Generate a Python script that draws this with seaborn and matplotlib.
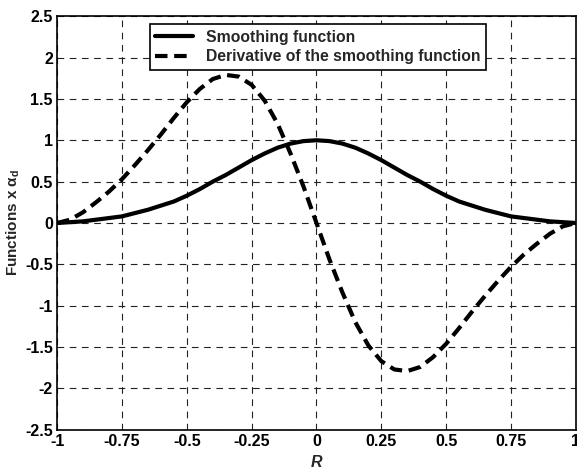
import numpy as np
import pandas as pd
import matplotlib
matplotlib.use("Agg")
import matplotlib.pyplot as plt
import seaborn as sns

# values
r_values = [-1.00, -0.95, -0.90, -0.85, -0.80, -0.75, -0.70, -0.65, -0.60, -0.55,
            -0.50, -0.45, -0.40, -0.35, -0.30, -0.25, -0.20, -0.15, -0.10, -0.05,
            0.00, 0.05, 0.10, 0.15, 0.20, 0.25, 0.30, 0.35, 0.40, 0.45,
            0.50, 0.55, 0.60, 0.65, 0.70, 0.75, 0.80, 0.85, 0.90, 0.95, 1.00]

smoothing = [0.00, 0.01, 0.02, 0.04, 0.06, 0.08, 0.12, 0.16, 0.21, 0.26,
             0.33, 0.41, 0.50, 0.58, 0.67, 0.76, 0.84, 0.91, 0.96, 0.99,
             1.00, 0.99, 0.96, 0.91, 0.84, 0.76, 0.67, 0.58, 0.50, 0.41,
             0.33, 0.26, 0.21, 0.16, 0.12, 0.08, 0.06, 0.04, 0.02, 0.01, 0.00]

derivative = [0.00, 0.04, 0.13, 0.25, 0.38, 0.53, 0.70, 0.88, 1.07, 1.27,
              1.46, 1.62, 1.74, 1.79, 1.77, 1.67, 1.48, 1.20, 0.84, 0.44,
              0.00, -0.44, -0.84, -1.20, -1.48, -1.67, -1.77, -1.79, -1.74, -1.62,
              -1.46, -1.27, -1.07, -0.88, -0.70, -0.53, -0.38, -0.25, -0.13, -0.04, 0.00]

x_ticks = [-1, -0.75, -0.5, -0.25, 0, 0.25, 0.5, 0.75, 1]
x_labels = ["-1", "-0.75", "-0.5", "-0.25", "0", "0.25", "0.5", "0.75", "1"]
y_ticks = [-2.5, -2, -1.5, -1, -0.5, 0, 0.5, 1, 1.5, 2, 2.5]
y_labels = ["-2.5", "-2", "-1.5", "-1", "-0.5", "0", "0.5", "1", "1.5", "2", "2.5"]

df = pd.DataFrame({"R": r_values, "smooth": smoothing, "deriv": derivative})

sns.set_style("white")
plt.rcParams["font.family"] = ["Liberation Sans", "DejaVu Sans"]
plt.rcParams["font.weight"] = "bold"
plt.rcParams["mathtext.fontset"] = "custom"
plt.rcParams["mathtext.rm"] = "Liberation Sans:bold"
plt.rcParams["mathtext.it"] = "Liberation Sans:bold"

fig = plt.figure(figsize=(5.77, 4.76), dpi=100)
ax = fig.add_axes([0.099, 0.097, 0.899, 0.869])

sns.lineplot(data=df, x="R", y="smooth", ax=ax, color="black", lw=3,
             label="Smoothing function")
sns.lineplot(data=df, x="R", y="deriv", ax=ax, color="black", lw=3,
             linestyle=(0, (3, 1.6)), label="Derivative of the smoothing function")

ax.set_xlim(-1, 1)
ax.set_ylim(-2.5, 2.5)
ax.set_xticks(x_ticks)
ax.set_xticklabels(x_labels)
ax.set_yticks(y_ticks)
ax.set_yticklabels(y_labels)
ax.tick_params(direction="in", length=3, labelsize=11.5, colors="black", pad=3)

ax.grid(True, color="#222222", linestyle=(0, (6, 5)), linewidth=0.8)
for s in ax.spines.values():
    s.set_color("black")
    s.set_linewidth(1.2)

ax.set_xlabel("R", fontsize=11.5, fontweight="bold", fontstyle="italic", labelpad=4)
ax.set_ylabel("Functions x $\\alpha_d$", fontsize=11, fontweight="bold", labelpad=2)

leg = ax.legend(loc="upper left", bbox_to_anchor=(0.179, 0.981), fontsize=11.3,
                frameon=True, fancybox=False, edgecolor="black", framealpha=1,
                handlelength=2.4, handletextpad=0.8, borderpad=0.35,
                labelspacing=0.3, borderaxespad=0)
leg.get_frame().set_linewidth(1.2)

fig.savefig("out.png", dpi=100)
